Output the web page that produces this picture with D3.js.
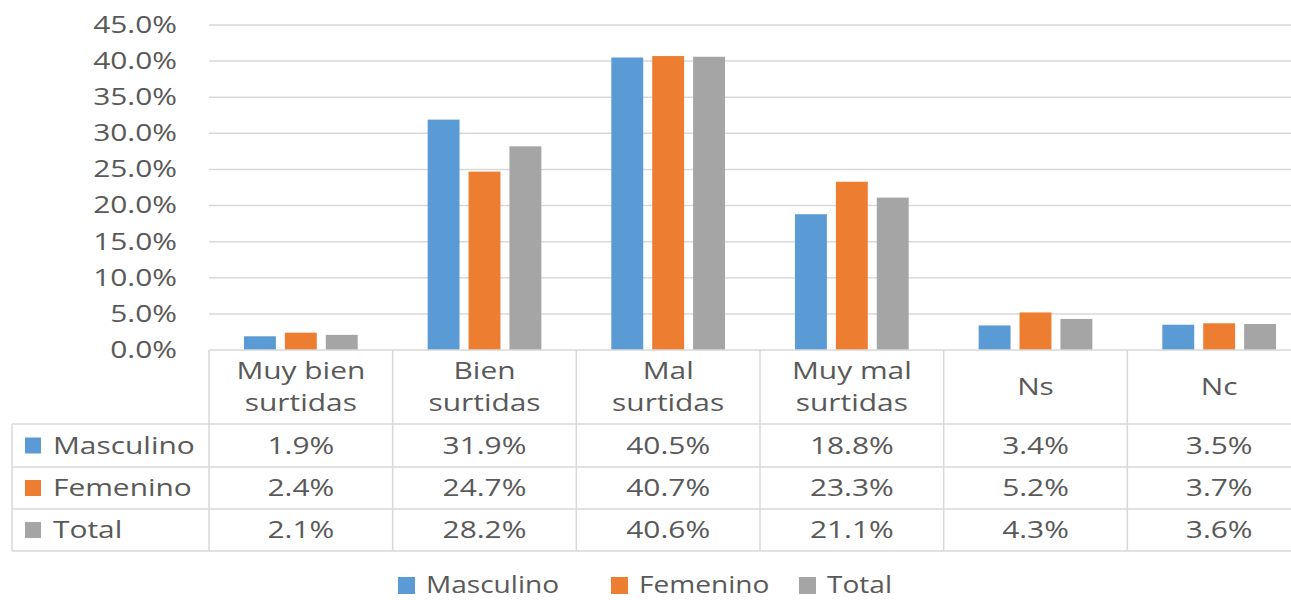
<!DOCTYPE html>
<html>
<head>
<meta charset="utf-8">
<script src="https://cdn.jsdelivr.net/npm/d3@7"></script>
<style>
  body { margin: 0; background: #fff; }
  svg { display: block; font-family: "Open Sans", sans-serif; }
</style>
</head>
<body>
<svg width="1291" height="600"></svg>
<script>
var categories = [["Muy bien", "surtidas"], ["Bien", "surtidas"], ["Mal", "surtidas"], ["Muy mal", "surtidas"], ["Ns"], ["Nc"]];
var seriesNames = ["Masculino", "Femenino", "Total"];
var masculino = [1.9, 31.9, 40.5, 18.8, 3.4, 3.5];
var femenino = [2.4, 24.7, 40.7, 23.3, 5.2, 3.7];
var total = [2.1, 28.2, 40.6, 21.1, 4.3, 3.6];
var yTicks = [0, 5, 10, 15, 20, 25, 30, 35, 40, 45];
var colors = ["#5B9BD5", "#ED7D31", "#A5A5A5"];

(function () {
  var series = [masculino, femenino, total];
  var svg = d3.select("svg");
  var textColor = "#595959", lineColor = "#D9D9D9";
  var fontSize = "23px", sx = 1.3;

  // text is drawn a bit wider than the font, like the original
  function label(parent, x, yy, str, anchor, scaleX) {
    return parent.append("text")
      .attr("transform", "translate(" + x + "," + yy + ") scale(" + (scaleX || sx) + ",1)")
      .attr("text-anchor", anchor || "start")
      .attr("dy", "0.35em")
      .attr("fill", textColor)
      .style("font-size", fontSize)
      .text(str);
  }

  // plot area
  var plotLeft = 209, plotRight = 1311, plotTop = 25, plotBottom = 350;
  var y = d3.scaleLinear().domain([0, 45]).range([plotBottom, plotTop]);
  var x0 = d3.scaleBand().domain(d3.range(categories.length)).range([plotLeft, plotRight]);
  var x1 = d3.scaleBand().domain(d3.range(series.length)).range([0, x0.bandwidth()])
    .paddingInner(0.22).paddingOuter(0.855);

  // gridlines
  svg.append("g").selectAll("line")
    .data(yTicks.slice(1))
    .enter().append("line")
    .attr("x1", plotLeft).attr("x2", plotRight)
    .attr("y1", d => y(d)).attr("y2", d => y(d))
    .attr("stroke", lineColor).attr("stroke-width", 1.5);

  // y axis labels
  var yAxis = d3.axisLeft(y).tickValues(yTicks).tickSize(0).tickPadding(0)
    .tickFormat(d => d.toFixed(1) + "%");
  var ga = svg.append("g").attr("transform", "translate(177,0)").call(yAxis);
  ga.select(".domain").remove();
  ga.selectAll("text")
    .attr("fill", textColor)
    .attr("transform", "scale(" + sx + ",1)")
    .style("font-size", fontSize)
    .style("font-family", "'Open Sans', sans-serif");

  // bars
  var groups = svg.append("g").selectAll("g")
    .data(d3.range(categories.length))
    .enter().append("g")
    .attr("transform", d => "translate(" + x0(d) + ",0)");
  groups.selectAll("rect")
    .data(ci => series.map((s, si) => ({ si: si, v: s[ci] })))
    .enter().append("rect")
    .attr("x", d => x1(d.si))
    .attr("width", x1.bandwidth())
    .attr("y", d => y(d.v))
    .attr("height", d => y(0) - y(d.v))
    .attr("fill", d => colors[d.si]);

  // data table grid
  var rowLines = [424, 467, 509, 551];
  var tableLeft = 12;
  var tbl = svg.append("g").attr("stroke", lineColor).attr("stroke-width", 1.5);
  tbl.append("line").attr("x1", plotLeft).attr("x2", plotRight).attr("y1", plotBottom).attr("y2", plotBottom);
  rowLines.forEach(function (ry) {
    tbl.append("line").attr("x1", tableLeft).attr("x2", plotRight).attr("y1", ry).attr("y2", ry);
  });
  tbl.append("line").attr("x1", tableLeft).attr("x2", tableLeft).attr("y1", rowLines[0]).attr("y2", rowLines[3]);
  d3.range(categories.length + 1).forEach(function (i) {
    var xx = i < categories.length ? x0(i) : plotRight;
    tbl.append("line").attr("x1", xx).attr("x2", xx).attr("y1", plotBottom).attr("y2", rowLines[3]);
  });

  // header text
  var hdr = svg.append("g");
  categories.forEach(function (c, i) {
    var cx = x0(i) + x0.bandwidth() / 2;
    if (c.length === 2) {
      label(hdr, cx, 371, c[0], "middle");
      label(hdr, cx, 403, c[1], "middle");
    } else {
      label(hdr, cx, 387, c[0], "middle");
    }
  });

  // rows
  series.forEach(function (s, si) {
    var cy = (rowLines[si] + rowLines[si + 1]) / 2;
    var row = svg.append("g");
    row.append("rect").attr("x", 25).attr("y", cy - 8).attr("width", 16).attr("height", 16).attr("fill", colors[si]);
    label(row, 53, cy, seriesNames[si]);
    s.forEach(function (v, ci) {
      label(row, x0(ci) + x0.bandwidth() / 2, cy, v.toFixed(1) + "%", "middle");
    });
  });

  // legend
  var legendX = [398, 611, 799];
  var lg = svg.append("g");
  seriesNames.forEach(function (n, i) {
    lg.append("rect").attr("x", legendX[i]).attr("y", 577).attr("width", 17).attr("height", 17).attr("fill", colors[i]);
    label(lg, legendX[i] + 28, 585, n, "start", 1.22);
  });
})();
</script>
</body>
</html>
